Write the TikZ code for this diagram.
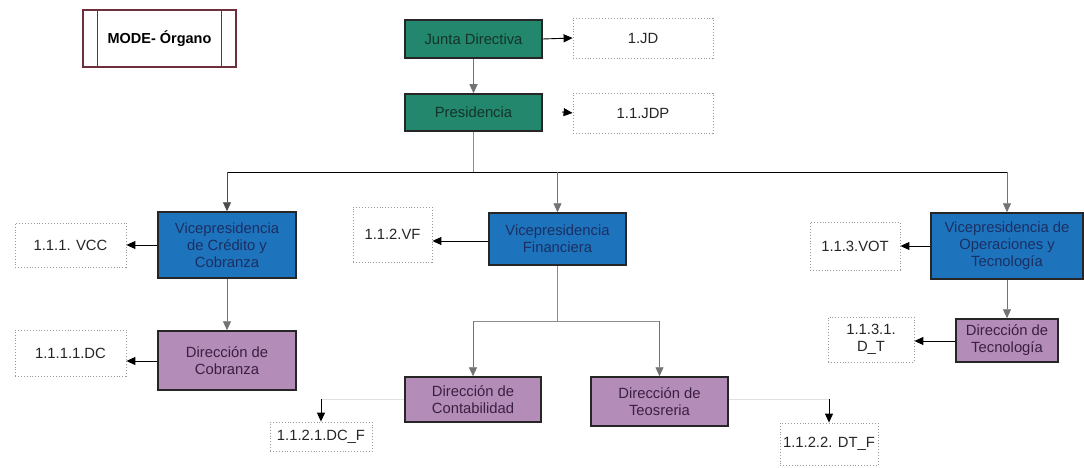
\documentclass[tikz,border=0pt]{standalone}
\usepackage{fontspec}
\setmainfont{Liberation Sans}
\usetikzlibrary{arrows.meta}
\definecolor{orggreen}{HTML}{23876D}
\definecolor{orgblue}{HTML}{1D74BD}
\definecolor{orgpurple}{HTML}{B48CB8}
\definecolor{modered}{HTML}{6E2F3C}
\definecolor{greentext}{HTML}{14332A}
\definecolor{bluetext}{HTML}{1B2F63}
\definecolor{purpletext}{HTML}{3A2040}
\begin{document}
\begin{tikzpicture}[x=1pt,y=-1pt,
  font=\fontsize{14.8}{17}\selectfont,
  box/.style={draw=black!85,line width=1.5pt,inner sep=2pt,align=center},
  greenbox/.style={box,fill=orggreen,text=greentext},
  bluebox/.style={box,fill=orgblue,text=bluetext},
  purplebox/.style={box,fill=orgpurple,text=purpletext},
  codebox/.style={draw=black!40,line width=0.8pt,dash pattern=on 0.9pt off 2pt,fill=white,inner sep=2pt,align=center,text=black!85},
  link/.style={line width=0.9pt,-{Triangle[length=9pt,width=8pt]}},
  trunk/.style={line width=0.9pt,black!45},
  faint/.style={line width=0.8pt,black!12}]
\useasboundingbox[fill=white] (0,0) rectangle (1084,468);

% legend box
\node[draw=modered,line width=1.3pt,minimum width=153pt,minimum height=57pt,inner sep=0pt,font=\fontsize{14.5}{17}\selectfont\bfseries] (mode) at (159.5,38.5) {MODE- Órgano};
\draw[modered,line width=1.3pt] (mode.north west) ++(15,0) coordinate (ml1) -- (ml1 |- mode.south);
\draw[modered,line width=1.3pt] (mode.north east) ++(-15,0) coordinate (ml2) -- (ml2 |- mode.south);

% organ boxes
\node[greenbox,minimum width=137pt,minimum height=38pt] (jd) at (473.5,39) {Junta Directiva};
\node[greenbox,minimum width=137pt,minimum height=37pt] (pres) at (473.5,112.5) {Presidencia};
\node[bluebox,minimum width=138pt,minimum height=66pt] (vcc) at (227,245) {Vicepresidencia\\de Crédito y\\Cobranza};
\node[bluebox,minimum width=137pt,minimum height=52pt] (vf) at (557.5,239) {Vicepresidencia\\Financiera};
\node[bluebox,minimum width=152pt,minimum height=66pt] (vot) at (1007,246) {Vicepresidencia de\\Operaciones y\\Tecnología};
\node[purplebox,minimum width=138pt,minimum height=59pt] (dcob) at (227,360.5) {Dirección de\\Cobranza};
\node[purplebox,minimum width=102pt,minimum height=43pt] (dtec) at (1007,340.5) {Dirección de\\Tecnología};
\node[purplebox,minimum width=136pt,minimum height=45pt] (dcon) at (473,399.5) {Dirección de\\Contabilidad};
\node[purplebox,minimum width=137pt,minimum height=49pt] (dteo) at (659.5,401.5) {Dirección de\\Teosreria};

% code boxes
\node[codebox,minimum width=140pt,minimum height=40pt] (jdc) at (643,38) {1.JD};
\node[codebox,minimum width=140pt,minimum height=40pt] (presc) at (643,113) {1.1.JDP};
\node[codebox,minimum width=111pt,minimum height=44pt] (vccc) at (70.5,245) {1.1.1. VCC};
\node[codebox,minimum width=79pt,minimum height=55pt] (vfc) at (392.5,234.5) {1.1.2.VF};
\node[codebox,minimum width=90pt,minimum height=48pt] (votc) at (855,246) {1.1.3.VOT};
\node[codebox,minimum width=111pt,minimum height=46pt] (dcobc) at (70.5,353) {1.1.1.1.DC};
\node[codebox,minimum width=86pt,minimum height=45pt] (dtecc) at (871,339.5) {1.1.3.1.\\D\_T};
\node[codebox,minimum width=102pt,minimum height=29pt] (dconc) at (321,436.5) {1.1.2.1.DC\_F};
\node[codebox,minimum width=98pt,minimum height=42pt] (dteoc) at (829,444) {1.1.2.2. DT\_F};

% hierarchy
\draw[link,black!55] (jd) -- (pres);
\coordinate (bus) at (473.5,172);
\draw[trunk] (pres.south) -- (bus);
\coordinate (busl) at (227,172);
\coordinate (busm) at (557.5,172);
\coordinate (busr) at (1007,172);
\draw[line width=1pt] (busl) -- (busr);
\draw[link,black!70] (busl) -- (vcc.north);
\draw[link,black!55] (busm) -- (vf.north);
\draw[link,black!55] (busr) -- (vot.north);
\draw[link,black!55] (vcc) -- (dcob);
\draw[link,black!55] (vot) -- (dtec);

\coordinate (fbus) at (557.5,321);
\coordinate (fbusl) at (473,321);
\coordinate (fbusr) at (659.5,321);
\draw[trunk] (vf.south) -- (fbus);
\draw[trunk] (fbusl) -- (fbusr);
\draw[link,black!55] (fbusl) -- (dcon.north);
\draw[link,black!55] (fbusr) -- (dteo.north);

% code links
\draw[link] (jd.east) -- (jdc.west);
\coordinate (pstub) at (562,112);
\draw[link] (pstub) -- (presc.west);
\draw[link] (vcc.west) -- (vccc.east);
\draw[link] (vf.west |- 0,241) -- (vfc.east |- 0,241);
\draw[link] (vot.west) -- (votc.east);
\draw[link] (dcob.west |- 0,361) -- (dcobc.east |- 0,361);
\draw[link] (dtec.west |- 0,341) -- (dtecc.east |- 0,341);

\coordinate (dcbend) at (321,399);
\draw[faint] (dcon.west |- dcbend) -- (dcbend);
\draw[link] (dcbend) -- (dconc.north);
\coordinate (dtbend) at (829,399);
\draw[faint] (dteo.east |- dtbend) -- (dtbend);
\draw[link] (dtbend) -- (dteoc.north);
\end{tikzpicture}
\end{document}
